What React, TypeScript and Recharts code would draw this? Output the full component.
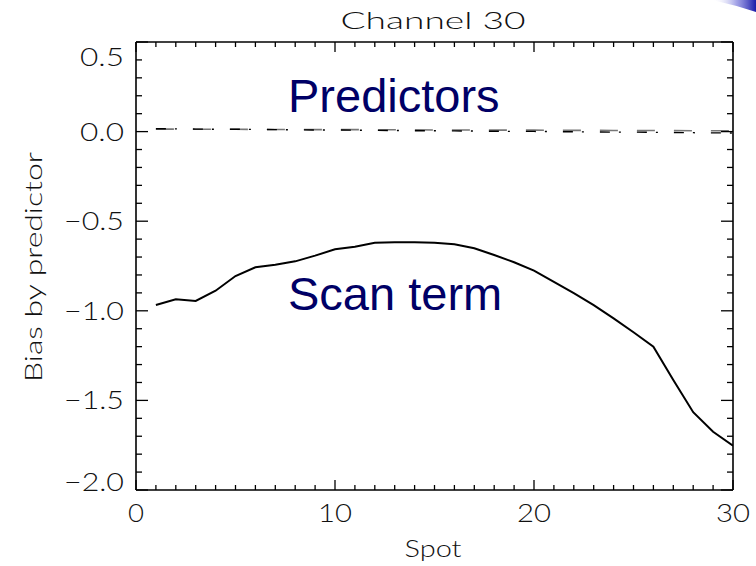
import React from 'react';
import { LineChart, Line, XAxis, YAxis } from 'recharts';

const spots = [1, 2, 3, 4, 5, 6, 7, 8, 9, 10, 11, 12, 13, 14, 15, 16, 17, 18, 19, 20, 21, 22, 23, 24, 25, 26, 27, 28, 29, 30];
const scanTerm = [-0.968, -0.936, -0.945, -0.888, -0.806, -0.757, -0.743, -0.724, -0.692, -0.657, -0.642, -0.620, -0.618, -0.618, -0.620, -0.629, -0.651, -0.689, -0.729, -0.776, -0.839, -0.902, -0.968, -1.042, -1.120, -1.200, -1.386, -1.566, -1.675, -1.753];
const predictorDash = [0.014, 0.014, 0.013, 0.013, 0.013, 0.012, 0.012, 0.012, 0.011, 0.011, 0.011, 0.010, 0.010, 0.010, 0.009, 0.009, 0.009, 0.008, 0.008, 0.008, 0.007, 0.007, 0.007, 0.006, 0.006, 0.006, 0.006, 0.005, 0.005, 0.005];
const predictorDashDot = [0.016, 0.015, 0.014, 0.013, 0.013, 0.012, 0.011, 0.010, 0.009, 0.009, 0.008, 0.007, 0.006, 0.005, 0.005, 0.004, 0.003, 0.002, 0.001, 0.001, 0.000, -0.001, -0.002, -0.003, -0.003, -0.004, -0.005, -0.006, -0.007, -0.008];

const xTicks = [0, 1, 2, 3, 4, 5, 6, 7, 8, 9, 10, 11, 12, 13, 14, 15, 16, 17, 18, 19, 20, 21, 22, 23, 24, 25, 26, 27, 28, 29, 30];
const xMajorTicks = [0, 10, 20, 30];
const yTicks = [-2.0, -1.9, -1.8, -1.7, -1.6, -1.5, -1.4, -1.3, -1.2, -1.1, -1.0, -0.9, -0.8, -0.7, -0.6, -0.5, -0.4, -0.3, -0.2, -0.1, 0.0, 0.1, 0.2, 0.3, 0.4, 0.5];
const yMajorTicks = [-2.0, -1.5, -1.0, -0.5, 0.0, 0.5];

const title = 'Channel 30';
const xLabel = 'Spot';
const yLabel = 'Bias by predictor';
const annotations = ['Predictors', 'Scan term'];

const data = spots.map((s, i) => ({
  spot: s,
  scan: scanTerm[i],
  pDash: predictorDash[i],
  pDashDot: predictorDashDot[i],
}));

const FONT = 'Lato, "DejaVu Sans", sans-serif';
const TXT = '#111';

const isMajorY = (v: number) => yMajorTicks.some((m) => Math.abs(m - v) < 1e-6);
const isMajorX = (v: number) => xMajorTicks.includes(v);

const fmtY = (v: number) => {
  const s = Math.abs(v).toFixed(1);
  return v < -1e-9 ? '\u2212' + s : s;
};

const XBottomTick = (props: any) => {
  const { x, y, payload } = props;
  const major = isMajorX(payload.value);
  const label = String(payload.value);
  return (
    <g>
      <line x1={x} x2={x} y1={y} y2={y - (major ? 10 : 5)} stroke="#000" strokeWidth={1.3} />
      {major && (
        <text x={x} y={y + 32} textAnchor="middle" fontFamily={FONT} fontWeight={300} fontSize={25} fill={TXT}
          textLength={label.length === 1 ? 16 : 34} lengthAdjust="spacingAndGlyphs">
          {label}
        </text>
      )}
    </g>
  );
};

const XTopTick = (props: any) => {
  const { x, y, payload } = props;
  const major = isMajorX(payload.value);
  return <line x1={x} x2={x} y1={y} y2={y + (major ? 10 : 5)} stroke="#000" strokeWidth={1.3} />;
};

const YLeftTick = (props: any) => {
  const { x, y, payload } = props;
  const v = payload.value as number;
  const major = isMajorY(v);
  const label = fmtY(v);
  let cy = y;
  if (Math.abs(v - 0.5) < 1e-6) cy = y + 15;
  if (Math.abs(v + 2.0) < 1e-6) cy = y - 8;
  return (
    <g>
      <line x1={x} x2={x + (major ? 12 : 6)} y1={y} y2={y} stroke="#000" strokeWidth={1.3} />
      {major && (
        <text x={x - 12} y={cy + 9} textAnchor="end" fontFamily={FONT} fontWeight={300} fontSize={25} fill={TXT}
          textLength={label.length === 3 ? 44 : 60} lengthAdjust="spacingAndGlyphs">
          {label}
        </text>
      )}
    </g>
  );
};

const YRightTick = (props: any) => {
  const { x, y, payload } = props;
  const major = isMajorY(payload.value);
  return <line x1={x} x2={x - (major ? 12 : 6)} y1={y} y2={y} stroke="#000" strokeWidth={1.3} />;
};

export default function App() {
  return (
    <div style={{ position: 'absolute', left: 0, top: 0, width: 756, height: 566, background: '#fff', overflow: 'hidden' }}>
      <LineChart width={756} height={566} data={data} margin={{ top: 37, right: 13, bottom: 36, left: 56 }}>
        <XAxis dataKey="spot" type="number" domain={[0, 30]} ticks={xTicks} interval={0} allowDataOverflow
          tickSize={0} tickMargin={0} height={40} tick={<XBottomTick />} axisLine={{ stroke: '#000', strokeWidth: 1.6 }} tickLine={false} />
        <XAxis xAxisId="top" orientation="top" dataKey="spot" type="number" domain={[0, 30]} ticks={xTicks} interval={0} allowDataOverflow
          tickSize={0} tickMargin={0} height={5} tick={<XTopTick />} axisLine={{ stroke: '#000', strokeWidth: 1.6 }} tickLine={false} />
        <YAxis type="number" domain={[-2, 0.5]} ticks={yTicks} interval={0} allowDataOverflow
          tickSize={0} tickMargin={0} width={80} tick={<YLeftTick />} axisLine={{ stroke: '#000', strokeWidth: 1.6 }} tickLine={false} />
        <YAxis yAxisId="right" orientation="right" type="number" domain={[-2, 0.5]} ticks={yTicks} interval={0} allowDataOverflow
          tickSize={0} tickMargin={0} width={10} tick={<YRightTick />} axisLine={{ stroke: '#000', strokeWidth: 1.6 }} tickLine={false} />
        <Line dataKey="pDash" stroke="#777" strokeWidth={1.6} strokeDasharray="18 19" dot={false} activeDot={false} isAnimationActive={false} />
        <Line dataKey="pDashDot" stroke="#000" strokeWidth={1.4} strokeDasharray="10 9 2 16" dot={false} activeDot={false} isAnimationActive={false} />
        <Line dataKey="scan" stroke="#000" strokeWidth={2} dot={false} activeDot={false} isAnimationActive={false} />
        <Line xAxisId="top" yAxisId="right" dataKey="scan" stroke="transparent" strokeWidth={0} dot={false} activeDot={false} isAnimationActive={false} />
      </LineChart>
      <svg width={756} height={566} style={{ position: 'absolute', left: 0, top: 0, pointerEvents: 'none' }}>
        <defs>
          <linearGradient id="swoosh" x1="0" y1="0" x2="1" y2="0">
            <stop offset="0" stopColor="#ffffff" stopOpacity={0} />
            <stop offset="0.55" stopColor="#6a6ad8" stopOpacity={0.6} />
            <stop offset="1" stopColor="#1a1aa8" stopOpacity={1} />
          </linearGradient>
        </defs>
        <path d="M 712 0 Q 735 5 756 12 L 756 0 Z" fill="url(#swoosh)" />
        <text x={433} y={29} textAnchor="middle" fontFamily={FONT} fontWeight={300} fontSize={24} fill={TXT}
          textLength={185} lengthAdjust="spacingAndGlyphs">{title}</text>
        <text x={433} y={557} textAnchor="middle" fontFamily={FONT} fontWeight={300} fontSize={24} fill={TXT}
          textLength={57} lengthAdjust="spacingAndGlyphs">{xLabel}</text>
        <text x={0} y={0} transform="translate(42 267) rotate(-90)" textAnchor="middle" fontFamily={FONT} fontWeight={300} fontSize={24} fill={TXT}
          textLength={230} lengthAdjust="spacingAndGlyphs">{yLabel}</text>
        <text x={288} y={112} fontFamily='"Liberation Sans", Arial, sans-serif' fontSize={47} fill="#000066">{annotations[0]}</text>
        <text x={288} y={310} fontFamily='"Liberation Sans", Arial, sans-serif' fontSize={47} fill="#000066">{annotations[1]}</text>
      </svg>
    </div>
  );
}
